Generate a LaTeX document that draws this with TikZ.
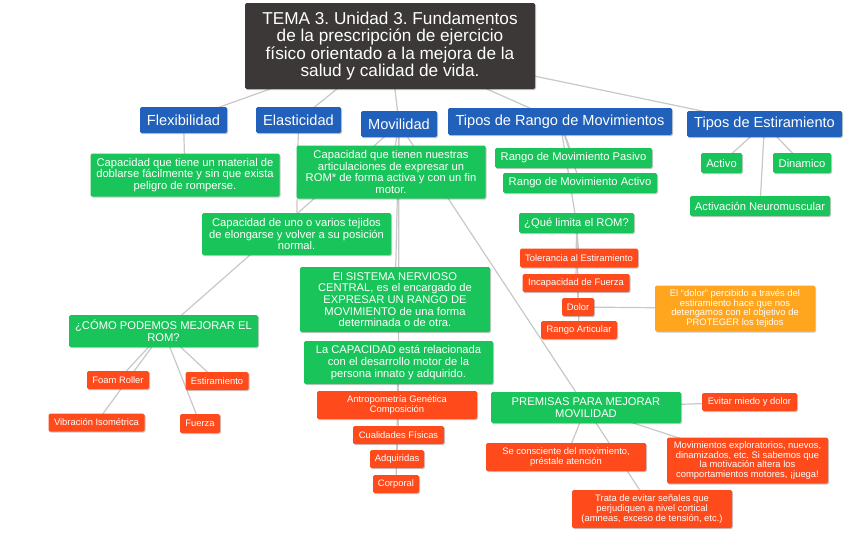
\documentclass[tikz,border=0pt]{standalone}
\usepackage{fontspec}
\setmainfont{Liberation Sans}
\usetikzlibrary{shadows,backgrounds}
\frenchspacing
\definecolor{titlec}{HTML}{3B3837}
\definecolor{bluec}{HTML}{2161BB}
\definecolor{greenc}{HTML}{19C45A}
\definecolor{redc}{HTML}{FF4A1C}
\definecolor{orangec}{HTML}{FFA51E}
\definecolor{linec}{HTML}{C8C8C8}
\tikzset{
 box/.style={rectangle, rounded corners=1.5pt, inner sep=0pt, align=center, text=white,
   drop shadow={shadow xshift=1pt, shadow yshift=-1.2pt, opacity=0.22, fill=black}},
 titlebox/.style={box, fill=titlec, font=\fontsize{17.2}{17.4}\selectfont},
 bluebox/.style={box, fill=bluec, font=\fontsize{14.6}{16}\selectfont},
 greenbox/.style={box, fill=greenc, font=\fontsize{11.2}{11.7}\selectfont},
 redbox/.style={box, fill=redc, font=\fontsize{9.4}{9.8}\selectfont},
 orangebox/.style={box, fill=orangec, font=\fontsize{9.4}{9.8}\selectfont},
 link/.style={draw=linec, line width=1.2pt},
}
\newcommand\bx[6]{\node[#1, minimum width=#4pt, minimum height=#5pt] (#2) at (#3) {#6};}
\begin{document}
\begin{tikzpicture}[x=1pt,y=-1pt]
\useasboundingbox (0,0) rectangle (848,533);
% title
\bx{titlebox}{title}{390,46}{290}{86}{TEMA 3. Unidad 3. Fundamentos\\de la prescripción de ejercicio\\físico orientado a la mejora de la\\salud y calidad de vida.}
% blue
\bx{bluebox}{flex}{183.5,120}{87}{26}{Flexibilidad}
\bx{bluebox}{elas}{298.5,120}{85}{26}{Elasticidad}
\bx{bluebox}{movi}{399,124}{76}{26}{Movilidad}
\bx{bluebox}{tiporom}{560,121.5}{224}{27}{Tipos de Rango de Movimientos}
\bx{bluebox}{tipoest}{764.5,124}{155}{26}{Tipos de Estiramiento}
% green
\bx{greenbox}{flexd}{185,175}{189}{43}{Capacidad que tiene un material de\\doblarse fácilmente y sin que exista\\peligro de romperse.}
\bx{greenbox}{movid}{391,172}{189}{53}{Capacidad que tienen nuestras\\articulaciones de expresar un\\ROM* de forma activa y con un fin\\motor.}
\bx{greenbox}{elasd}{296.5,234}{189}{42}{Capacidad de uno o varios tejidos\\de elongarse y volver a su posición\\normal.}
\bx{greenbox}{snc}{395,299.5}{190}{65}{El SISTEMA NERVIOSO\\CENTRAL, es el encargado de\\EXPRESAR UN RANGO DE\\MOVIMIENTO de una forma\\determinada o de otra.}
\bx{greenbox}{capac}{398.5,362.5}{189}{43}{La CAPACIDAD está relacionada\\con el desarrollo motor de la\\persona innato y adquirido.}
\bx{greenbox}{como}{163.5,331}{189}{32}{¿CÓMO PODEMOS MEJORAR EL\\ROM?}
\bx{greenbox}{pasivo}{573.5,158}{157}{20}{Rango de Movimiento Pasivo}
\bx{greenbox}{activo}{580,183}{154}{20}{Rango de Movimiento Activo}
\bx{greenbox}{quelim}{576.5,223}{115}{20}{¿Qué limita el ROM?}
\bx{greenbox}{eactivo}{721.5,163}{41}{20}{Activo}
\bx{greenbox}{dinam}{802,163}{58}{20}{Dinamico}
\bx{greenbox}{activn}{760,206}{140}{20}{Activación Neuromuscular}
\bx{greenbox}{premisas}{586,407.5}{190}{31}{PREMISAS PARA MEJORAR\\MOVILIDAD}
% red
\bx{redbox}{toler}{579,258}{118}{19}{Tolerancia al Estiramiento}
\bx{redbox}{incap}{576,283}{107}{18}{Incapacidad de Fuerza}
\bx{redbox}{dolor}{578,307}{32}{18}{Dolor}
\bx{redbox}{rarti}{579,330}{76}{18}{Rango Articular}
\bx{orangebox}{dolortxt}{735,308.5}{160}{46}{El “dolor” percibido a través del\\estiramiento hace que nos\\detengamos con el objetivo de\\PROTEGER los tejidos}
\bx{redbox}{foam}{118,380}{62}{18}{Foam Roller}
\bx{redbox}{estir}{217,381}{63}{18}{Estiramiento}
\bx{redbox}{vibra}{96.5,422.5}{96}{18}{Vibración Isométrica}
\bx{redbox}{fuerza}{200,423.5}{40}{19}{Fuerza}
\bx{redbox}{antro}{397,405}{160}{28}{Antropometría Genética\\Composición}
\bx{redbox}{cuali}{398.5,435}{91}{18}{Cualidades Físicas}
\bx{redbox}{adqui}{397,459}{54}{18}{Adquiridas}
\bx{redbox}{corpo}{396,484}{46}{18}{Corporal}
\bx{redbox}{evitar}{749.5,402}{95}{18}{Evitar miedo y dolor}
\bx{redbox}{secon}{566,457}{160}{28}{Se consciente del movimiento,\\préstale atención}
\bx{redbox}{movexp}{747.5,460.5}{161}{46}{Movimientos exploratorios, nuevos,\\dinamizados, etc. Si sabemos que\\la motivación altera los\\comportamientos motores, ¡juega!}
\bx{redbox}{trata}{652,509}{160}{38}{Trata de evitar señales que\\perjudiquen a nivel cortical\\(amneas, exceso de tensión, etc.)}
% connectors
\begin{pgfonlayer}{background}
\fill[white] (0,0) rectangle (848,533);
\foreach \a/\b in {title/flex,title/elas,title/movi,title/tiporom,title/tipoest,
  flex/flexd,elas/elasd,
  movi/movid,movi/snc,movi/capac,movi/como,movi/premisas,
  capac/antro,capac/cuali,capac/adqui,capac/corpo,
  tiporom/pasivo,tiporom/activo,tiporom/quelim,
  quelim/toler,quelim/incap,quelim/dolor,quelim/rarti,dolor/dolortxt,
  tipoest/eactivo,tipoest/dinam,tipoest/activn,
  como/foam,como/estir,como/vibra,como/fuerza,
  premisas/evitar,premisas/secon,premisas/movexp,premisas/trata}
  \draw[link] (\a.center) -- (\b.center);
\end{pgfonlayer}
\end{tikzpicture}
\end{document}
